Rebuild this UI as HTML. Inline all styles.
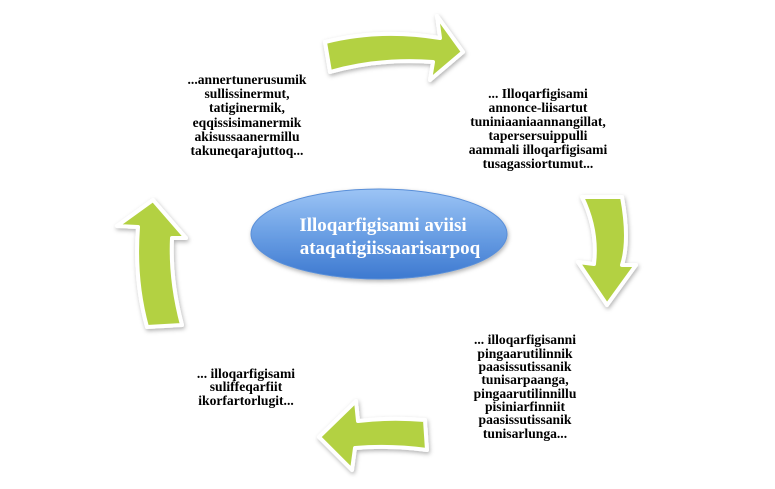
<!DOCTYPE html>
<html><head><meta charset="utf-8"><style>
body{margin:0;background:#fff;width:775px;height:484px;overflow:hidden}
.t{font-family:"Liberation Serif",serif;font-weight:bold;font-size:13.6px;fill:#000}
</style></head><body>
<svg width="775" height="484" viewBox="0 0 775 484">
<defs>
<linearGradient id="g" x1="0" y1="0" x2="0" y2="1">
<stop offset="0" stop-color="#9cc4f5"/><stop offset="0.5" stop-color="#6a9fe4"/><stop offset="1" stop-color="#3d79d0"/></linearGradient>
<filter id="s" x="-20%" y="-20%" width="140%" height="140%"><feDropShadow dx="1" dy="2" stdDeviation="2" flood-color="#000" flood-opacity="0.3"/></filter>
</defs>
<ellipse cx="379" cy="234" rx="128" ry="45" fill="url(#g)" stroke="#5a8fd8" stroke-width="1" filter="url(#s)"/>
<text x="383" y="231" text-anchor="middle" font-family="Liberation Serif,serif" font-weight="bold" font-size="19" fill="#fff">Illoqarfigisami aviisi</text>
<text x="390" y="254" text-anchor="middle" font-family="Liberation Serif,serif" font-weight="bold" font-size="19" fill="#fff">ataqatigiissaarisarpoq</text>
<g fill="#b3d143" stroke="#fff" stroke-width="4" stroke-linejoin="round" filter="url(#s)">
<path d="M325,42 Q380,28 440,38 L437,16 L463,52 L430,80 L433,62 Q380,58 330,72 Z"/>
<path d="M582,197 L622,197 Q630,240 622,265 L636,265 L607,305 L578,262 L594,264 Q598,230 582,197 Z"/>
<path d="M425,420 Q390,417 358,421 L356,401 L319,437 L352,470 L355,448 Q390,445 427,450 Z"/>
<path d="M182,325 Q170,280 172,238 L186,238 L153,200 L117,226 L138,227 Q134,280 147,327 Z"/>
</g>
<g class="t" text-anchor="middle">
<text x="247" y="84">...annertunerusumik</text>
<text x="247" y="98">sullissinermut,</text>
<text x="247" y="112">tatiginermik,</text>
<text x="247" y="127">eqqissisimanermik</text>
<text x="247" y="141">akisussaanermillu</text>
<text x="247" y="155">takuneqarajuttoq...</text>
<text x="538" y="98">... Illoqarfigisami</text>
<text x="538" y="112">annonce-liisartut</text>
<text x="538" y="126">tuniniaaniaannangillat,</text>
<text x="538" y="140">tapersersuippulli</text>
<text x="538" y="154">aammali illoqarfigisami</text>
<text x="538" y="168">tusagassiortumut...</text>
<text x="525" y="344">... illoqarfigisanni</text>
<text x="525" y="358">pingaarutilinnik</text>
<text x="525" y="371">paasissutissanik</text>
<text x="525" y="384">tunisarpaanga,</text>
<text x="525" y="398">pingaarutilinnillu</text>
<text x="525" y="411">pisiniarfinniit</text>
<text x="525" y="424">paasissutissanik</text>
<text x="525" y="438">tunisarlunga...</text>
<text x="246" y="378">... illoqarfigisami</text>
<text x="246" y="391">suliffeqarfiit</text>
<text x="246" y="405">ikorfartorlugit...</text>
</g>
</svg>
</body></html>
